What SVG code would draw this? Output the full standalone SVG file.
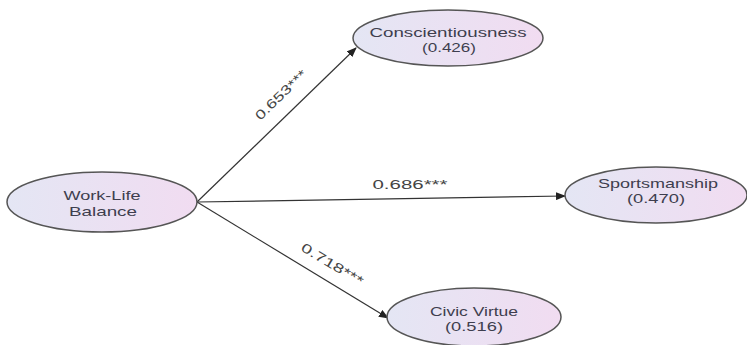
<svg xmlns="http://www.w3.org/2000/svg" width="747" height="345" viewBox="0 0 747 345">
<defs>
<linearGradient id="g" x1="0" y1="0" x2="1" y2="0">
<stop offset="0" stop-color="#e4e6f4"/>
<stop offset="1" stop-color="#f1dcf1"/>
</linearGradient>
<marker id="arr" markerWidth="10" markerHeight="8" refX="9" refY="4" orient="auto" markerUnits="userSpaceOnUse">
<path d="M0,0 L10,4 L0,8 Z" fill="#222"/>
</marker>
<style>
.n ellipse{fill:url(#g);stroke:#555;stroke-width:1.5}
.n text,.lab{font-family:"Liberation Sans",Arial,sans-serif;font-size:13px;fill:#3e3e4e;text-anchor:middle}
.lab{fill:#444}
.c line{stroke:#333;stroke-width:1.2;marker-end:url(#arr)}
</style>
</defs>
<rect width="747" height="345" fill="#fff"/>
<g id="connectors" class="c">
<line x1="197" y1="202" x2="356" y2="48"/>
<line x1="197" y1="202" x2="565" y2="196"/>
<line x1="197" y1="202" x2="388" y2="318"/>
<text class="lab" transform="translate(284,98) rotate(-44)" x="0" y="0" textLength="66" lengthAdjust="spacingAndGlyphs">0.653***</text>
<text class="lab" x="410" y="189" textLength="75" lengthAdjust="spacingAndGlyphs">0.686***</text>
<text class="lab" transform="translate(330,268) rotate(31)" x="0" y="0" textLength="70" lengthAdjust="spacingAndGlyphs">0.718***</text>
</g>
<g id="wlb" class="n">
<ellipse cx="102" cy="202" rx="95" ry="30"/>
<text x="102" y="200" textLength="77" lengthAdjust="spacingAndGlyphs">Work-Life</text>
<text x="103" y="216" textLength="68" lengthAdjust="spacingAndGlyphs">Balance</text>
</g>
<g id="consc" class="n">
<ellipse cx="448" cy="38" rx="95" ry="28"/>
<text x="448" y="37" textLength="157" lengthAdjust="spacingAndGlyphs">Conscientiousness</text>
<text x="449" y="52" textLength="54" lengthAdjust="spacingAndGlyphs">(0.426)</text>
</g>
<g id="sports" class="n">
<ellipse cx="656" cy="195" rx="91" ry="28"/>
<text x="658" y="188" textLength="120" lengthAdjust="spacingAndGlyphs">Sportsmanship</text>
<text x="656" y="203" textLength="58" lengthAdjust="spacingAndGlyphs">(0.470)</text>
</g>
<g id="civic" class="n">
<ellipse cx="474" cy="317" rx="87" ry="29"/>
<text x="474" y="316" textLength="88" lengthAdjust="spacingAndGlyphs">Civic Virtue</text>
<text x="474" y="331" textLength="58" lengthAdjust="spacingAndGlyphs">(0.516)</text>
</g>
</svg>
